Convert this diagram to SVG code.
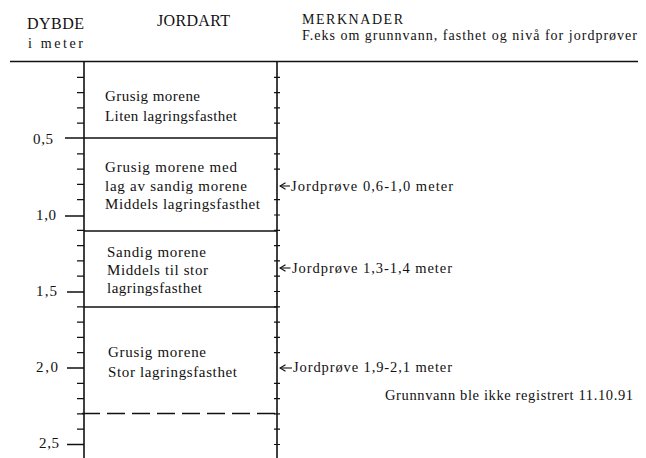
<svg xmlns="http://www.w3.org/2000/svg" width="646" height="458" viewBox="0 0 646 458">
<style>
text{font-family:"Liberation Serif","Times New Roman",serif;fill:#111}
.h{font-size:16px}
.s{font-size:14px}
.b{font-size:15px}
.n{font-size:15px}
.r{font-size:14.5px}
.ln{stroke:#111;stroke-width:1.6;fill:none}
.tk{stroke:#111;stroke-width:1.2;fill:none}
.ax{stroke:#111;stroke-width:1.1;fill:none}
</style>
<defs>
<marker id="ah" viewBox="0 0 8 8" refX="6.5" refY="4" markerWidth="8" markerHeight="8" markerUnits="userSpaceOnUse" orient="auto">
<path d="M1,0.8 L6.5,4 L1,7.2" fill="none" stroke="#111" stroke-width="1.2"/>
</marker>
</defs>
<rect width="646" height="458" fill="#fff"/>
<g id="header">
<text class="h" x="27" y="29" textLength="57" lengthAdjust="spacing">DYBDE</text>
<text class="s" x="28" y="48" textLength="55" lengthAdjust="spacing">i meter</text>
<text class="h" x="157" y="26" textLength="73" lengthAdjust="spacing">JORDART</text>
<text class="s" x="302" y="24" textLength="101" lengthAdjust="spacing">MERKNADER</text>
<text class="s" x="302" y="40" textLength="335" lengthAdjust="spacing">F.eks om grunnvann, fasthet og nivå for jordprøver</text>
<line class="ln" x1="10" y1="61.5" x2="638" y2="61.5" stroke-width="2"/>
</g>
<g id="scale">
<line class="ln" x1="84" y1="61" x2="84" y2="458"/>
<line class="ln" x1="277" y1="61" x2="277" y2="458"/>
<path class="tk" d="M77,77.3H84M77,92.6H84M77,107.9H84M77,123.2H84M77,153.8H84M77,169.1H84M77,184.4H84M77,199.7H84M77,230.3H84M77,245.6H84M77,260.9H84M77,276.2H84M77,306.8H84M77,322.1H84M77,337.4H84M77,352.7H84M77,383.3H84M77,398.6H84M77,413.9H84M77,429.2H84"/>
<path class="tk" d="M274,77.3H280M274,92.6H280M274,107.9H280M274,123.2H280M274,153.8H280M274,169.1H280M274,199.7H280M274,215H280M274,230.3H280M274,245.6H280M274,260.9H280M274,276.2H280M274,291.5H280M274,306.8H280M274,322.1H280M274,337.4H280M274,352.7H280M274,383.3H280M274,398.6H280M274,413.9H280M274,429.2H280M274,444.5H280"/>
<path class="ln" d="M65,216H84M67,292H84M67,368H84M67,444.5H84" stroke-width="1.5"/>
<text class="n" x="33" y="144" textLength="20" lengthAdjust="spacing">0,5</text>
<text class="n" x="36" y="220" textLength="20" lengthAdjust="spacing">1,0</text>
<text class="n" x="36" y="296" textLength="21" lengthAdjust="spacing">1,5</text>
<text class="n" x="36" y="372" textLength="22" lengthAdjust="spacing">2,0</text>
<text class="n" x="39" y="448" textLength="20" lengthAdjust="spacing">2,5</text>
</g>
<g id="layer1">
<text class="b" x="105" y="101" textLength="95" lengthAdjust="spacing">Grusig morene</text>
<text class="b" x="105" y="121" textLength="132" lengthAdjust="spacing">Liten lagringsfasthet</text>
</g>
<g id="layer2">
<line class="ln" x1="65" y1="138" x2="277" y2="138" stroke-width="2"/>
<text class="b" x="105" y="172" textLength="132" lengthAdjust="spacing">Grusig morene med</text>
<text class="b" x="105" y="191" textLength="142" lengthAdjust="spacing">lag av sandig morene</text>
<text class="b" x="105" y="209" textLength="155" lengthAdjust="spacing">Middels lagringsfasthet</text>
</g>
<g id="layer3">
<line class="ln" x1="84" y1="231" x2="277" y2="231"/>
<text class="b" x="107" y="257" textLength="99" lengthAdjust="spacing">Sandig morene</text>
<text class="b" x="107" y="275" textLength="101" lengthAdjust="spacing">Middels til stor</text>
<text class="b" x="107" y="293" textLength="95" lengthAdjust="spacing">lagringsfasthet</text>
</g>
<g id="layer4">
<line class="ln" x1="84" y1="307" x2="277" y2="307" stroke-width="2"/>
<text class="b" x="108" y="357" textLength="98" lengthAdjust="spacing">Grusig morene</text>
<text class="b" x="108" y="377" textLength="129" lengthAdjust="spacing">Stor lagringsfasthet</text>
</g>
<g id="groundwater">
<line class="ln" x1="80" y1="413.5" x2="277" y2="413.5" stroke-width="2" stroke-dasharray="18 7" stroke-dashoffset="-2"/>
<text class="r" x="385" y="400" textLength="248" lengthAdjust="spacing">Grunnvann ble ikke registrert 11.10.91</text>
</g>
<g id="samples">
<text class="r" x="291" y="191" textLength="162" lengthAdjust="spacing">Jordprøve 0,6-1,0 meter</text>
<text class="r" x="292" y="273" textLength="160" lengthAdjust="spacing">Jordprøve 1,3-1,4 meter</text>
<text class="r" x="293" y="372" textLength="159" lengthAdjust="spacing">Jordprøve 1,9-2,1 meter</text>
</g>
<g id="connectors">
<line class="ax" x1="290" y1="186" x2="280" y2="186" marker-end="url(#ah)"/>
<line class="ax" x1="290.5" y1="268" x2="280" y2="268" marker-end="url(#ah)"/>
<line class="ax" x1="292" y1="368" x2="280" y2="368" marker-end="url(#ah)"/>
</g>
</svg>
